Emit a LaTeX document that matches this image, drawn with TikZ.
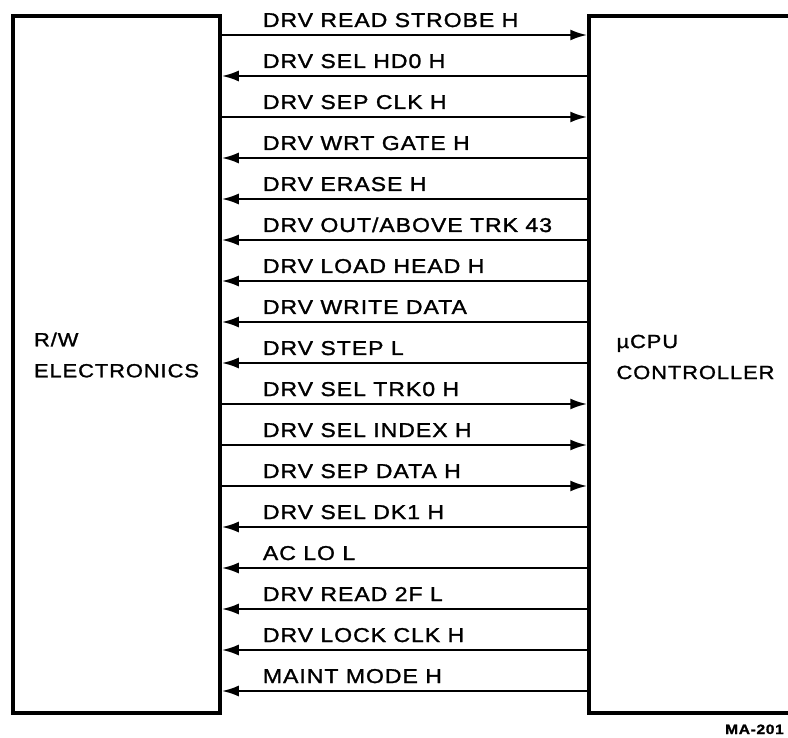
\documentclass[tikz,border=0pt]{standalone}
\usepackage{fontspec}
\setmainfont{Liberation Sans}[FakeStretch=1.15, LetterSpace=5, FakeBold=1.4]
\usetikzlibrary{arrows.meta,positioning}

\newcommand\sigfont{\fontsize{20}{31}\selectfont}

\begin{document}
\begin{tikzpicture}[x=1pt, y=-1pt, >={Latex[length=17pt,width=11pt]},
    unit/.style={draw, line width=3.5pt, minimum height=697pt, inner sep=0pt},
    unitname/.style={align=left, inner sep=0pt, font=\fontsize{19}{31}\selectfont},
    sig/.style={line width=2.4pt},
    siglabel/.style={anchor=base west, inner sep=0pt, xshift=40pt, yshift=8pt, font=\sigfont}]
    \useasboundingbox (0,0) rectangle (788,738);
    \node[unit, minimum width=207pt] (rw) at (116.5,364.5) {};
    \node[unit, minimum width=213pt] (cpu) at (695.5,364.5) {};
    \node[unitname] (rwname) at (116.5,355) {R/W\\ELECTRONICS};
    \node[unitname] (cpuname) at (695.5,357) {µCPU\\CONTROLLER};
    % signals between the two units
    \draw[sig,->] (rw.east |- 0,35) -- node[siglabel, pos=0] (s1) {DRV READ STROBE H} (cpu.west |- 0,35);
    \draw[sig,<-] (rw.east |- 0,76) -- node[siglabel, pos=0] (s2) {DRV SEL HD0 H} (cpu.west |- 0,76);
    \draw[sig,->] (rw.east |- 0,117) -- node[siglabel, pos=0] (s3) {DRV SEP CLK H} (cpu.west |- 0,117);
    \draw[sig,<-] (rw.east |- 0,158) -- node[siglabel, pos=0] (s4) {DRV WRT GATE H} (cpu.west |- 0,158);
    \draw[sig,<-] (rw.east |- 0,199) -- node[siglabel, pos=0] (s5) {DRV ERASE H} (cpu.west |- 0,199);
    \draw[sig,<-] (rw.east |- 0,240) -- node[siglabel, pos=0] (s6) {DRV OUT/ABOVE TRK 43} (cpu.west |- 0,240);
    \draw[sig,<-] (rw.east |- 0,281) -- node[siglabel, pos=0] (s7) {DRV LOAD HEAD H} (cpu.west |- 0,281);
    \draw[sig,<-] (rw.east |- 0,322) -- node[siglabel, pos=0] (s8) {DRV WRITE DATA} (cpu.west |- 0,322);
    \draw[sig,<-] (rw.east |- 0,363) -- node[siglabel, pos=0] (s9) {DRV STEP L} (cpu.west |- 0,363);
    \draw[sig,->] (rw.east |- 0,404) -- node[siglabel, pos=0] (s10) {DRV SEL TRK0 H} (cpu.west |- 0,404);
    \draw[sig,->] (rw.east |- 0,445) -- node[siglabel, pos=0] (s11) {DRV SEL INDEX H} (cpu.west |- 0,445);
    \draw[sig,->] (rw.east |- 0,486) -- node[siglabel, pos=0] (s12) {DRV SEP DATA H} (cpu.west |- 0,486);
    \draw[sig,<-] (rw.east |- 0,527) -- node[siglabel, pos=0] (s13) {DRV SEL DK1 H} (cpu.west |- 0,527);
    \draw[sig,<-] (rw.east |- 0,568) -- node[siglabel, pos=0] (s14) {AC LO L} (cpu.west |- 0,568);
    \draw[sig,<-] (rw.east |- 0,609) -- node[siglabel, pos=0] (s15) {DRV READ 2F L} (cpu.west |- 0,609);
    \draw[sig,<-] (rw.east |- 0,650) -- node[siglabel, pos=0] (s16) {DRV LOCK CLK H} (cpu.west |- 0,650);
    \draw[sig,<-] (rw.east |- 0,691) -- node[siglabel, pos=0] (s17) {MAINT MODE H} (cpu.west |- 0,691);
    \node[anchor=base west, inner sep=0pt, font=\bfseries\fontsize{13.5}{15}\selectfont] (fig) at (725,734) {MA-201};
\end{tikzpicture}
\end{document}
